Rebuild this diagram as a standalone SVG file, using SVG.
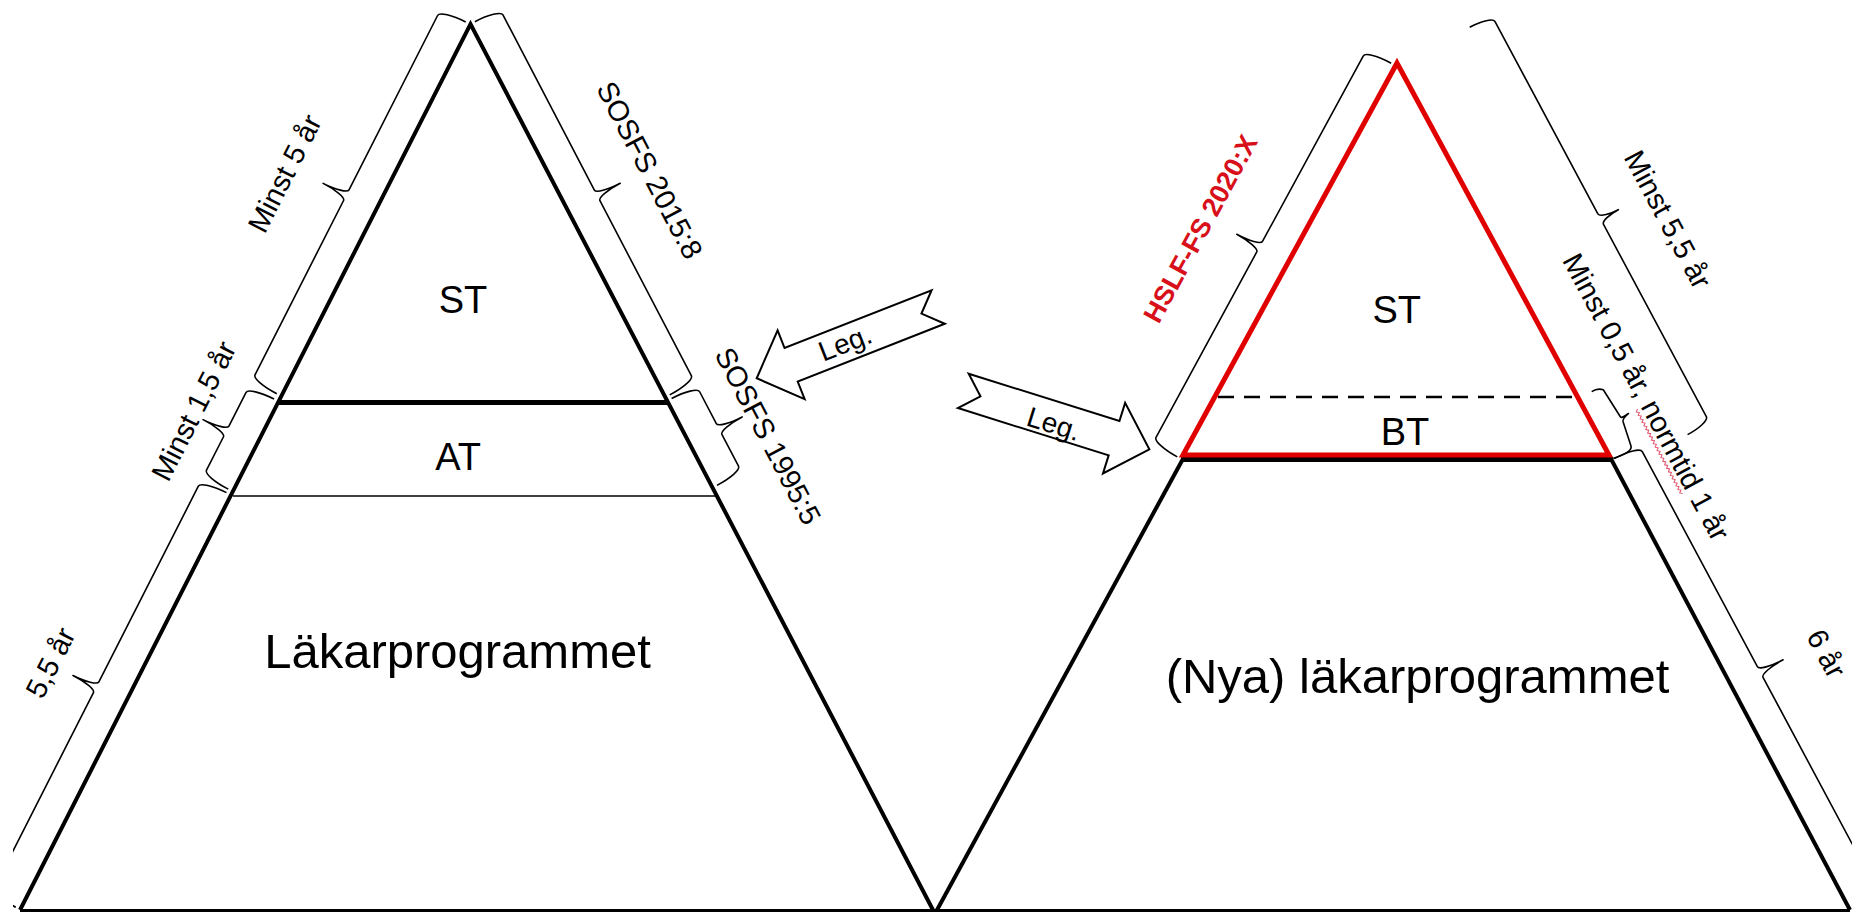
<svg xmlns="http://www.w3.org/2000/svg" width="1852" height="913" viewBox="0 0 1852 913">
  <style>
    .edge{fill:none;stroke:#000;stroke-width:4;stroke-linejoin:miter}
    .redge{fill:none;stroke:#e00000;stroke-width:5;stroke-linejoin:miter}
    .brace{fill:none;stroke:#000;stroke-width:1.6;stroke-linejoin:round}
    .arrow{fill:#fff;stroke:#000;stroke-width:2;stroke-linejoin:miter}
    text{font-family:"Liberation Sans",Arial,sans-serif;fill:#000}
    .big{font-size:49px;text-anchor:middle}
    .mid{font-size:38px;text-anchor:middle}
    .lab{font-size:29px;text-anchor:middle}
    .leg{font-size:28px;text-anchor:middle}
    .reg{font-size:27px;font-weight:bold;fill:#d8101a;text-anchor:middle}
  </style>
  <defs>
    <clipPath id="pageLeft"><rect x="13" y="0" width="1839" height="913"/></clipPath>
    <path id="legArrow" d="M0,-18 L158,-18 L158,-37 L195,0 L158,37 L158,18 L0,18 L18,0 Z"/>
  </defs>
  <rect width="1852" height="913" fill="#fff"/>

  <!-- common ground line -->
  <g id="ground">
    <line x1="20" y1="910.5" x2="1850" y2="910.5" stroke="#000" stroke-width="3"/>
  </g>

  <!-- old pyramid: AT + ST -->
  <g id="old-pyramid">
    <polyline class="edge" points="20,910 470.5,24 933,910"/>
    <line x1="278" y1="402.5" x2="668" y2="402.5" stroke="#000" stroke-width="5"/>
    <line x1="233" y1="496" x2="717" y2="496" stroke="#000" stroke-width="1.6"/>
    <text class="mid" x="463" y="313">ST</text>
    <text class="mid" x="458" y="470">AT</text>
    <text class="big" x="457.5" y="667.5">Läkarprogrammet</text>
  </g>

  <!-- new pyramid: BT + ST -->
  <g id="new-pyramid">
    <line class="edge" x1="937" y1="910" x2="1184" y2="457"/>
    <line class="edge" x1="1610" y1="457" x2="1850" y2="910"/>
    <line x1="1181" y1="459.5" x2="1613" y2="459.5" stroke="#000" stroke-width="5"/>
    <polygon class="redge" points="1397,63 1183,455 1609,455"/>
    <line x1="1218" y1="397" x2="1575" y2="397" stroke="#000" stroke-width="2.5" stroke-dasharray="16 10"/>
    <text class="mid" x="1396.7" y="323.3">ST</text>
    <text class="mid" x="1405" y="445">BT</text>
    <text class="big" x="1417.5" y="693.3">(Nya) läkarprogrammet</text>
  </g>

  <!-- braces along the pyramid sides -->
  <g id="braces">
    <path class="brace" transform="translate(276.8,393.7) rotate(-63.06)" d="M0,0 C0,-15.5 3.1,-28 7,-28 L202.5,-28 C205.8,-28 208.5,-39.6 208.5,-54 C208.5,-39.6 211.2,-28 214.5,-28 L410,-28 C413.9,-28 417,-15.5 417,0"/>
    <path class="brace" transform="translate(228.3,489.1) rotate(-63.06)" d="M0,0 C0,-15.5 3.1,-28 7,-28 L44.5,-28 C47.8,-28 50.5,-39.6 50.5,-54 C50.5,-39.6 53.2,-28 56.5,-28 L94,-28 C97.9,-28 101,-15.5 101,0"/>
    <g clip-path="url(#pageLeft)">
      <path class="brace" transform="translate(15.8,907.2) rotate(-63.06)" d="M0,0 C0,-15.5 3.1,-28 7,-28 L226.5,-28 C229.8,-28 232.5,-39.6 232.5,-54 C232.5,-39.6 235.2,-28 238.5,-28 L458,-28 C461.9,-28 465,-15.5 465,0"/>
    </g>
    <path class="brace" transform="translate(474.9,21.7) rotate(62.43)" d="M0,0 C0,-15.5 3.1,-28 7,-28 L204.5,-28 C207.8,-28 210.5,-39.6 210.5,-54 C210.5,-39.6 213.2,-28 216.5,-28 L414,-28 C417.9,-28 421,-15.5 421,0"/>
    <path class="brace" transform="translate(671.6,398.5) rotate(62.43)" d="M0,0 C0,-15.5 3.1,-28 7,-28 L43,-28 C46.3,-28 49,-39.6 49,-54 C49,-39.6 51.7,-28 55,-28 L91,-28 C94.9,-28 98,-15.5 98,0"/>
    <path class="brace" transform="translate(1177.3,456.9) rotate(-61.49)" d="M0,0 C0,-15.5 3.1,-28 7,-28 L218,-28 C221.3,-28 224,-39.6 224,-54 C224,-39.6 226.7,-28 230,-28 L441,-28 C444.9,-28 448,-15.5 448,0"/>
    <path class="brace" transform="translate(1469.7,27.2) rotate(61.86)" d="M0,0 C0,-13.8 3.1,-25 7,-25 L225,-25 C228.3,-25 231,-34 231,-45 C231,-34 233.7,-25 237,-25 L455,-25 C458.9,-25 462,-13.8 462,0"/>
    <path class="brace" d="M1591.7,391.7 C1595,389.5 1599.5,388.5 1603.3,389.8 L1620.5,417 C1621.5,418.3 1624,416.5 1628.5,413.5 C1624.5,417 1622.5,419.5 1623,421.5 L1631,446 C1632.5,450.5 1624,455 1613.3,458.3"/>
    <path class="brace" transform="translate(1614.3,458.6) rotate(61.86)" d="M0,0 C0,-15.5 3.1,-28 7,-28 L251,-28 C254.3,-28 257,-39.6 257,-54 C257,-39.6 259.7,-28 263,-28 L507,-28 C510.9,-28 514,-15.5 514,0"/>
  </g>

  <!-- brace labels -->
  <g id="labels">
    <text class="lab" transform="translate(293.5,178) rotate(-63.06)">Minst 5 år</text>
    <text class="lab" transform="translate(202.6,415.5) rotate(-63.06)">Minst 1,5 år</text>
    <text class="lab" transform="translate(59.3,667.2) rotate(-63.06)">5,5 år</text>
    <text class="lab" transform="translate(640.8,174.8) rotate(62.43)">SOSFS 2015:8</text>
    <text class="lab" transform="translate(759.1,440.6) rotate(62.43)">SOSFS 1995:5</text>
    <text class="reg" transform="translate(1208.5,233) rotate(-61.49)">HSLF-FS 2020:X</text>
    <text class="lab" transform="translate(1659.1,224.1) rotate(61.86)">Minst 5,5 år</text>
    <g transform="translate(1637.5,401.6) rotate(61.86)">
      <text class="lab">Minst 0,5 år, normtid 1 år</text>
      <path fill="none" stroke="#e0506a" stroke-width="1" d="M6.5,3.5 l2,2.4 l2,-2.4 l2,2.4 l2,-2.4 l2,2.4 l2,-2.4 l2,2.4 l2,-2.4 l2,2.4 l2,-2.4 l2,2.4 l2,-2.4 l2,2.4 l2,-2.4 l2,2.4 l2,-2.4 l2,2.4 l2,-2.4 l2,2.4 l2,-2.4 l2,2.4 l2,-2.4 l2,2.4 l2,-2.4 l2,2.4 l2,-2.4 l2,2.4 l2,-2.4 l2,2.4 l2,-2.4 l2,2.4 l2,-2.4 l2,2.4 l2,-2.4 l2,2.4 l2,-2.4 l2,2.4 l2,-2.4 l2,2.4 l2,-2.4 l2,2.4 l2,-2.4 l2,2.4 l2,-2.4 l2,2.4 l2,-2.4 l2,2.4 l2,-2.4"/>
    </g>
    <text class="lab" transform="translate(1817.5,658.2) rotate(61.86)">6 år</text>
  </g>

  <!-- licence arrows -->
  <g id="connectors">
    <use href="#legArrow" class="arrow" transform="translate(938.2,307) rotate(158.56)"/>
    <text class="leg" transform="translate(848.6,351.8) rotate(-21.44)">Leg.</text>
    <use href="#legArrow" class="arrow" transform="translate(963.3,390.9) rotate(17.42)"/>
    <text class="leg" transform="translate(1051,433.1) rotate(17.42)">Leg.</text>
  </g>
</svg>
